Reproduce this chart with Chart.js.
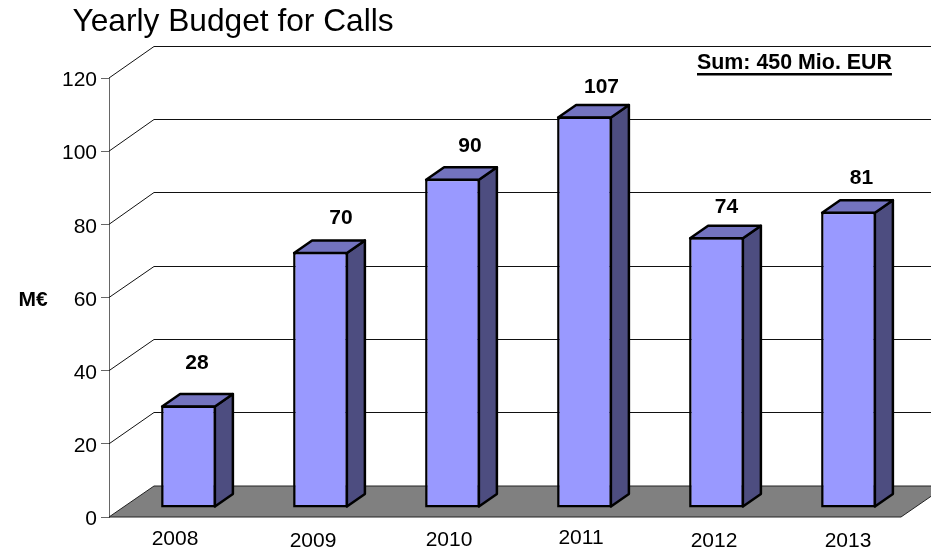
<!DOCTYPE html>
<html>
<head>
<meta charset="utf-8">
<title>Yearly Budget for Calls</title>
<style>
  html, body { margin: 0; padding: 0; background: #fff; }
  canvas { display: block; }
</style>
<script src="https://cdn.jsdelivr.net/npm/chart.js@4/dist/chart.umd.min.js"></script>
</head>
<body>
<canvas id="budgetChart" width="931" height="553"></canvas>
<script>
const years  = ['2008', '2009', '2010', '2011', '2012', '2013'];
const budget = [28, 70, 90, 107, 74, 81];
const yTicks = [0, 20, 40, 60, 80, 100, 120];

const TITLE    = 'Yearly Budget for Calls';
const SUM_TEXT = 'Sum: 450 Mio. EUR';
const UNIT     = 'M€';
const FONT     = '"Liberation Sans", Arial, sans-serif';

// 3d look: how far the back wall is from the front plane, and where the bars sit in that depth
const WALL_DX = 45, WALL_DY = -31;
const BAR_SHIFT_X = 13.5, BAR_SHIFT_Y = -9;
const BAR_DX = 18, BAR_DY = -12.5;

// the original labels were placed by hand, so they drift off the bar centres
const yearNudgeX  = [0, 6, 10, 10, 11, 13];
const yearNudgeY  = [0, 2, 1, -1, 2, 2];
const valueNudgeX = [8.5, 20.5, 17.5, 17, 10, 13];
const valueNudgeY = [-42, -34, -33, -29, -30, -33];

const walls = {
  id: 'walls',
  beforeDatasetsDraw(chart) {
    const { ctx, chartArea: a, scales: { y } } = chart;
    const y0 = y.getPixelForValue(0);

    ctx.save();
    // floor
    ctx.beginPath();
    ctx.moveTo(a.left, y0);
    ctx.lineTo(a.left + WALL_DX, y0 + WALL_DY);
    ctx.lineTo(a.right + WALL_DX, y0 + WALL_DY);
    ctx.lineTo(a.right, y0);
    ctx.closePath();
    ctx.fillStyle = '#808080';
    ctx.fill();
    ctx.strokeStyle = '#222';
    ctx.lineWidth = 1;
    ctx.stroke();

    // back wall lines, joined to the ticks by a diagonal
    yTicks.forEach(v => {
      if (v === 0) return;
      const py = y.getPixelForValue(v);
      const backY = Math.round(py + WALL_DY) - 0.5;
      ctx.beginPath();
      ctx.moveTo(a.left, py);
      ctx.lineTo(a.left + WALL_DX, backY);
      ctx.lineTo(a.right + WALL_DX, backY);
      ctx.strokeStyle = '#111';
      ctx.stroke();
    });
    ctx.restore();
  }
};

const bars3d = {
  id: 'bars3d',
  beforeDatasetDraw(chart, args) {
    const { ctx } = chart;
    ctx.save();
    ctx.translate(BAR_SHIFT_X, BAR_SHIFT_Y);
    ctx.lineWidth = 2.5;
    ctx.strokeStyle = '#000';
    ctx.lineJoin = 'round';
    args.meta.data.forEach(bar => {
      const l = bar.x - bar.width / 2 + 1, r = bar.x + bar.width / 2 - 1;
      const t = bar.y + 1, b = bar.base - 1;
      // side
      ctx.beginPath();
      ctx.moveTo(r, t);
      ctx.lineTo(r + BAR_DX, t + BAR_DY);
      ctx.lineTo(r + BAR_DX, b + BAR_DY);
      ctx.lineTo(r, b);
      ctx.closePath();
      ctx.fillStyle = '#4D4D80';
      ctx.fill();
      ctx.stroke();
      // top
      ctx.beginPath();
      ctx.moveTo(l, t);
      ctx.lineTo(l + BAR_DX, t + BAR_DY);
      ctx.lineTo(r + BAR_DX, t + BAR_DY);
      ctx.lineTo(r, t);
      ctx.closePath();
      ctx.fillStyle = '#7373BF';
      ctx.fill();
      ctx.stroke();
    });
  },
  afterDatasetDraw(chart) {
    chart.ctx.restore();
  }
};

const labels = {
  id: 'labels',
  afterDraw(chart) {
    const { ctx, scales: { x } } = chart;
    const meta = chart.getDatasetMeta(0);
    ctx.save();
    ctx.fillStyle = '#000';

    // title
    ctx.textAlign = 'left';
    ctx.textBaseline = 'alphabetic';
    ctx.font = '31.7px ' + FONT;
    ctx.fillText(TITLE, 72.5, 31);

    ctx.textAlign = 'center';
    ctx.textBaseline = 'middle';

    // year labels
    ctx.font = '21px ' + FONT;
    years.forEach((yr, i) => {
      ctx.fillText(yr, x.getPixelForValue(i) + yearNudgeX[i], 539 + yearNudgeY[i]);
    });

    // values above bars
    ctx.font = 'bold 21px ' + FONT;
    budget.forEach((v, i) => {
      const bar = meta.data[i];
      ctx.fillText(v, bar.x + BAR_SHIFT_X + valueNudgeX[i], bar.y + BAR_SHIFT_Y + valueNudgeY[i]);
    });

    // unit
    ctx.fillText(UNIT, 33, 300);

    // sum note, underlined
    ctx.textAlign = 'left';
    ctx.font = 'bold 21.4px ' + FONT;
    ctx.fillText(SUM_TEXT, 697, 63);
    const w = ctx.measureText(SUM_TEXT).width;
    ctx.fillRect(697, 73, w, 2.5);
    ctx.restore();
  }
};

new Chart(document.getElementById('budgetChart'), {
  type: 'bar',
  data: {
    labels: years,
    datasets: [{
      data: budget,
      backgroundColor: '#9999FF',
      borderColor: '#000',
      borderWidth: 2.5,
      borderSkipped: false,
      categoryPercentage: 1,
      barPercentage: 0.415,
      clip: false
    }]
  },
  options: {
    responsive: false,
    animation: false,
    layout: { padding: { top: 78, left: 0, right: 30, bottom: 0 } },
    plugins: {
      legend: { display: false },
      tooltip: { enabled: false },
      title: { display: false }
    },
    scales: {
      x: {
        grid: { display: false },
        border: { display: false },
        ticks: { display: false },
        afterFit: s => { s.height = 36; }
      },
      y: {
        min: 0,
        max: 120,
        afterFit: s => { s.width = 109; },
        afterBuildTicks: s => { s.ticks = yTicks.map(v => ({ value: v })); },
        border: { color: '#666', width: 1 },
        grid: { drawOnChartArea: false, drawTicks: true, tickLength: 8, color: '#666' },
        ticks: {
          color: '#000',
          padding: 4,
          labelOffset: 2.5,
          autoSkip: false,
          font: { family: FONT, size: 21 }
        }
      }
    }
  },
  plugins: [walls, bars3d, labels]
});
</script>
</body>
</html>
